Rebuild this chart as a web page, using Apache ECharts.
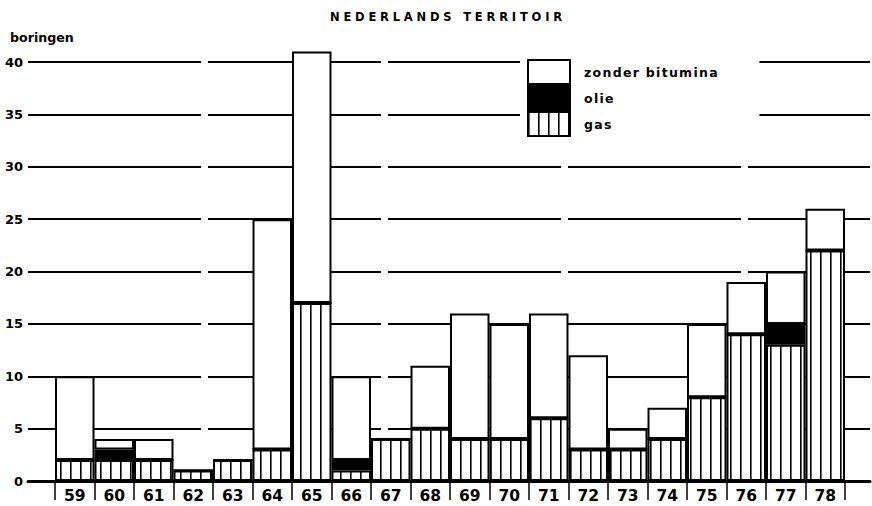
<!DOCTYPE html>
<html>
<head>
<meta charset="utf-8">
<script src="https://cdn.jsdelivr.net/npm/echarts@6/dist/echarts.min.js"></script>
<style>
html,body{margin:0;padding:0;background:#fff;}
#main{width:872px;height:506px;}
#main text[style*="11.5px"]{letter-spacing:3.8px;}
#main text[style*="12.5px"]{letter-spacing:1.3px;}
</style>
</head>
<body>
<div id="main"></div>
<script>
// ---- data ----
const years = ['59','60','61','62','63','64','65','66','67','68','69','70','71','72','73','74','75','76','77','78'];
const gas    = [2, 2, 2, 1, 2, 3, 17, 1, 4, 5, 4, 4, 6, 3, 3, 4, 8, 14, 13, 22];
const olie   = [0, 1, 0, 0, 0, 0, 0, 1, 0, 0, 0, 0, 0, 0, 0, 0, 0, 0, 2, 0];
const zonder = [8, 1, 2, 0, 0, 22, 24, 8, 0, 6, 12, 11, 10, 9, 2, 3, 7, 5, 5, 4];
const yTicks = [0, 5, 10, 15, 20, 25, 30, 35, 40];

// vertical hatch pattern for gas
const cv = document.createElement('canvas');
cv.width = 10; cv.height = 10;
const cx = cv.getContext('2d');
cx.fillStyle = '#fff'; cx.fillRect(0, 0, 10, 10);
cx.fillStyle = '#000'; cx.fillRect(0, 0, 1.6, 10);
const hatch = { image: cv.toDataURL(), repeat: 'repeat' };

const FONT = 'DejaVu Sans';
const chart = echarts.init(document.getElementById('main'), null, { renderer: 'svg' });
const border = { borderColor: '#000', borderWidth: 2 };

chart.setOption({
  animation: false,
  backgroundColor: '#fff',
  title: [
    { text: 'NEDERLANDS TERRITOIR', left: 325, top: 6,
      textStyle: { fontFamily: FONT, fontWeight: 'bold', fontSize: 11.5, color: '#000' } },
    { text: 'boringen', left: 5, top: 26,
      textStyle: { fontFamily: FONT, fontWeight: 'bold', fontSize: 12.6, color: '#000' } }
  ],
  legend: {
    orient: 'vertical', left: 520, top: 56,
    padding: [3, 60, 3, 7],
    backgroundColor: '#fff',
    itemGap: 0, itemWidth: 42, itemHeight: 24,
    icon: 'rect',
    selectedMode: false,
    data: ['zonder bitumina', 'olie', 'gas'],
    textStyle: { fontFamily: FONT, fontWeight: 'bold', fontSize: 12.5, color: '#000', padding: [0, 0, 2, 9] }
  },
  grid: [
    { left: 55, right: 27, top: 62, bottom: 25 },
    { left: 28, right: 2, top: 62, bottom: 25 }
  ],
  xAxis: [
    { type: 'category', gridIndex: 0, data: years, boundaryGap: true,
      axisLine: { show: false },
      axisTick: { show: true, interval: 0, length: 19, lineStyle: { color: '#000', width: 1.5 } },
      axisLabel: { interval: 0, margin: 7, fontFamily: FONT, fontWeight: 'bold', fontSize: 15.5, color: '#000' },
      splitLine: { show: false } },
    { type: 'value', gridIndex: 1, min: 0, max: 1, show: true,
      axisLine: { show: true, onZero: false, lineStyle: { color: '#000', width: 3 } },
      axisTick: { show: false }, axisLabel: { show: false }, splitLine: { show: false } }
  ],
  yAxis: [
    { type: 'value', gridIndex: 0, min: 0, max: 40, interval: 5, show: false, splitLine: { show: false } },
    { type: 'value', gridIndex: 1, min: 0, max: 40, interval: 5,
      axisLine: { show: false }, axisTick: { show: false },
      axisLabel: { margin: 5, fontFamily: FONT, fontWeight: 'bold', fontSize: 13, color: '#000',
        formatter: v => yTicks.includes(v) ? String(v) : '' },
      splitLine: { show: true, lineStyle: { color: '#000', width: 1.8, type: [173, 7] } } }
  ],
  series: [
    { name: 'gas', type: 'bar', stack: 't', xAxisIndex: 0, yAxisIndex: 0, data: gas,
      barWidth: '100%', clip: false, itemStyle: Object.assign({ color: hatch }, border) },
    { name: 'olie', type: 'bar', stack: 't', xAxisIndex: 0, yAxisIndex: 0, data: olie,
      barWidth: '100%', clip: false, itemStyle: Object.assign({ color: '#000' }, border) },
    { name: 'zonder bitumina', type: 'bar', stack: 't', xAxisIndex: 0, yAxisIndex: 0, data: zonder,
      barWidth: '100%', clip: false, itemStyle: Object.assign({ color: '#fff' }, border) }
  ]
});
</script>
</body>
</html>
